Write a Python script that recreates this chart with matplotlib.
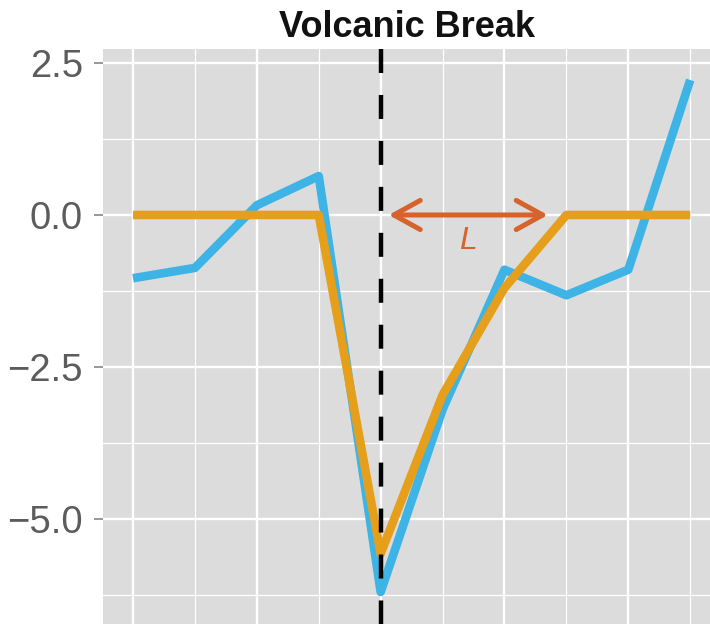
import matplotlib
matplotlib.use("Agg")
import matplotlib.pyplot as plt
from matplotlib.ticker import FixedLocator, FuncFormatter

# ---- data ----
x_idx = [0, 1, 2, 3, 4, 5, 6, 7, 8, 9]
observed = [-1.04, -0.87, 0.16, 0.64, -6.2, -3.2, -0.9, -1.32, -0.9, 2.22]
fitted = [0.0, 0.0, 0.0, 0.0, -5.57, -2.96, -1.2, 0.0, 0.0, 0.0]
break_x = 4
arrow_start = 4.13
arrow_end = 6.70
arrow_label = "L"
title = "Volcanic Break"
y_major = [-5.0, -2.5, 0.0, 2.5]
y_minor = [-6.25, -3.75, -1.25, 1.25]
x_major = [0, 2, 4, 6, 8]
x_minor = [1, 3, 5, 7, 9]

plt.rcParams['font.family'] = ['Liberation Sans', 'DejaVu Sans']

fig = plt.figure(figsize=(7.10, 6.24), dpi=100)
W, H = 710, 624
left, top = 103, 49
ax = fig.add_axes([left / W, 0, 1 - left / W, (H - top) / H])
ax.set_facecolor('#DCDCDC')
for s in ax.spines.values():
    s.set_visible(False)

ax.set_xlim(-0.485, 9.32)
ax.set_ylim(-6.727, 2.73)

ax.yaxis.set_major_locator(FixedLocator(y_major))
ax.yaxis.set_minor_locator(FixedLocator(y_minor))
ax.xaxis.set_major_locator(FixedLocator(x_major))
ax.xaxis.set_minor_locator(FixedLocator(x_minor))
ax.yaxis.set_major_formatter(FuncFormatter(lambda v, p: f"{v:.1f}".replace('-', '\u2212')))
ax.tick_params(axis='x', which='both', length=0, labelbottom=False)
ax.tick_params(axis='y', which='major', length=6.5, width=1.1, color='#7a7a7a',
               labelsize=27.5, labelcolor='#5c5c5c', pad=8)
ax.tick_params(axis='y', which='minor', length=0)

ax.grid(True, which='major', color='white', linewidth=1.7)
ax.grid(True, which='minor', color='white', linewidth=0.9)
ax.set_axisbelow(True)

ax.plot(x_idx, observed, color='#3DB3E6', linewidth=6.2, solid_joinstyle='round',
        solid_capstyle='butt', zorder=3)
ax.plot(x_idx, fitted, color='#E69F1A', linewidth=6.2, solid_joinstyle='round',
        solid_capstyle='butt', zorder=4)

vl = ax.axvline(break_x, color='black', linewidth=3.2, linestyle=(0, (5.4, 4.94)),
                dash_capstyle='butt', zorder=5)
vl.set_ydata([1, 0])

ax.annotate('', xy=(arrow_start, 0), xytext=(arrow_end, 0),
            arrowprops=dict(arrowstyle='<->,head_length=19,head_width=10.5',
                            mutation_scale=1, color='#D6622C', lw=3.6,
                            shrinkA=0, shrinkB=0),
            zorder=6)
ax.text((arrow_start + arrow_end) / 2, -0.42, arrow_label, fontsize=23, style='italic',
        color='#D6622C', ha='center', va='center', zorder=6)

fig.text(407 / W, 1 - 37 / H, title, fontsize=26, fontweight='bold', color='#111111',
         ha='center', va='baseline')

fig.savefig('out.png', dpi=100)
